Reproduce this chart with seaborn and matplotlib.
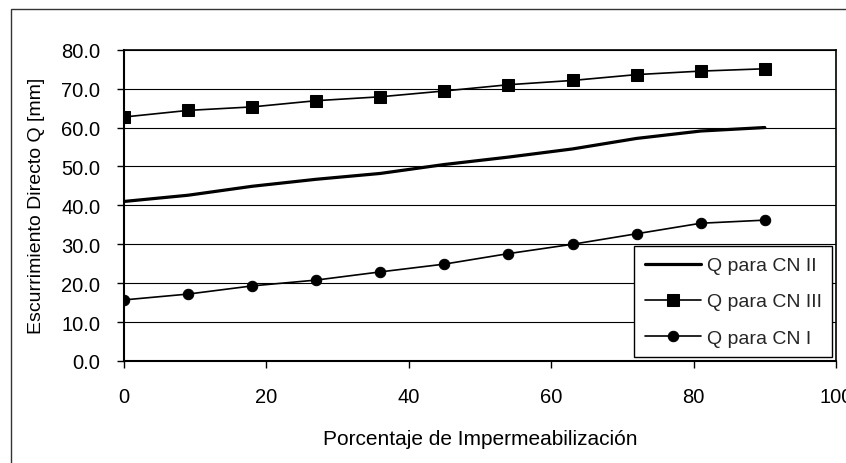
import matplotlib
matplotlib.use("Agg")
import matplotlib.pyplot as plt
import matplotlib.patches as mpatches
import numpy as np
import pandas as pd
import seaborn as sns

# Porcentaje de impermeabilización
impermeabilizacion = [0, 9, 18, 27, 36, 45, 54, 63, 72, 81, 90]
# Escurrimiento directo Q [mm] por condición de humedad antecedente
q_cn_ii = [41.0, 42.6, 44.9, 46.7, 48.2, 50.5, 52.4, 54.5, 57.2, 59.1, 60.0]
q_cn_iii = [62.7, 64.4, 65.3, 66.9, 67.9, 69.4, 71.0, 72.1, 73.6, 74.5, 75.1]
q_cn_i = [15.7, 17.2, 19.3, 20.8, 22.9, 24.9, 27.6, 30.0, 32.7, 35.4, 36.2]

series_labels = ["Q para CN II", "Q para CN III", "Q para CN I"]
y_ticks = [0, 10, 20, 30, 40, 50, 60, 70, 80]
x_ticks = [0, 20, 40, 60, 80, 100]

sns.set_style("white")
plt.rcParams["font.family"] = ["Liberation Sans", "DejaVu Sans"]
plt.rcParams["font.size"] = 14

fig = plt.figure(figsize=(8.46, 4.64), dpi=100)
ax = fig.add_axes([124 / 846, 1 - 362 / 464, 712 / 846, (362 - 50.7) / 464])

df = pd.DataFrame({
    "x": impermeabilizacion,
    "cn_ii": q_cn_ii,
    "cn_iii": q_cn_iii,
    "cn_i": q_cn_i,
})

sns.lineplot(data=df, x="x", y="cn_ii", ax=ax, color="black", lw=2.3,
             label=series_labels[0], zorder=3)
sns.lineplot(data=df, x="x", y="cn_iii", ax=ax, color="black", lw=1.2,
             marker="s", markersize=8, markeredgecolor="black",
             label=series_labels[1], zorder=3)
sns.lineplot(data=df, x="x", y="cn_i", ax=ax, color="black", lw=1.2,
             marker="o", markersize=7.5, markeredgecolor="black",
             label=series_labels[2], zorder=3)

ax.set_xlim(0, 100)
ax.set_ylim(0, 80)
ax.set_xticks(x_ticks)
ax.set_xticklabels([str(v) for v in x_ticks])
ax.set_yticks(y_ticks)
ax.set_yticklabels([f"{v:.1f}" for v in y_ticks])

ax.yaxis.grid(True, color="black", lw=0.8)
ax.xaxis.grid(False)
ax.set_axisbelow(True)

for side in ["left", "bottom"]:
    ax.spines[side].set_linewidth(1.5)
    ax.spines[side].set_color("black")
for side in ["top", "right"]:
    ax.spines[side].set_linewidth(1.2)
    ax.spines[side].set_color("black")
    ax.spines[side].set_visible(True)

ax.tick_params(axis="both", direction="out", length=5, width=1.0,
               colors="black", labelsize=14.5, bottom=True, left=True)
ax.tick_params(axis="y", pad=12)
ax.tick_params(axis="x", pad=14)

ax.set_xlabel("Porcentaje de Impermeabilización", fontsize=15, labelpad=16,
              color="black")
ax.set_ylabel("Escurrimiento Directo Q [mm]", fontsize=14, labelpad=12,
              color="black")

leg = ax.legend(loc="lower right", bbox_to_anchor=(0.9948, 0.012),
                frameon=True, fancybox=False, shadow=False,
                fontsize=14, handlelength=2.9, handletextpad=0.27,
                labelspacing=0.95, borderpad=0.55, borderaxespad=0.0)
leg.get_frame().set_edgecolor("black")
leg.get_frame().set_linewidth(1.0)
leg.get_frame().set_facecolor("white")
leg.get_frame().set_alpha(1.0)

# chart-area border
fig.patches.append(mpatches.Rectangle((11 / 846, -0.1), 2.0, 1 - 10 / 464 + 0.1,
                                      transform=fig.transFigure, fill=False,
                                      edgecolor="#333333", lw=1.0))

fig.savefig("out.png", dpi=100)
